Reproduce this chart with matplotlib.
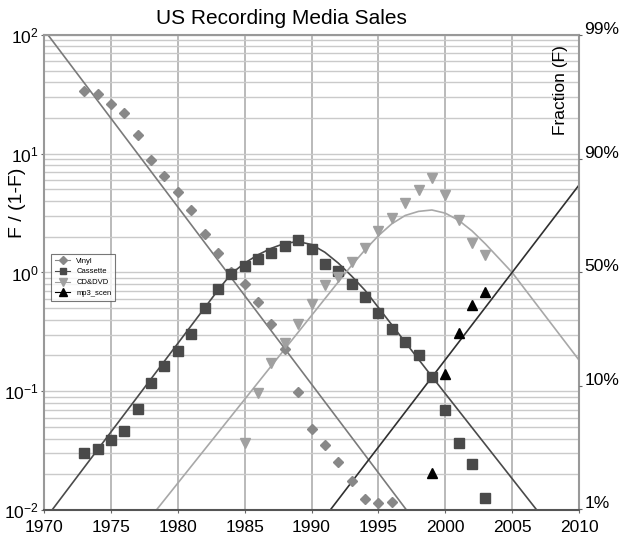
import matplotlib
matplotlib.use("Agg")
import matplotlib.pyplot as plt
import matplotlib.transforms as mtransforms
import numpy as np
from matplotlib.ticker import LogLocator, NullFormatter, FixedLocator, FixedFormatter

plt.rcParams['font.family'] = ['Liberation Sans', 'DejaVu Sans']

# observed F/(1-F) values
vinyl_years = list(range(1973, 1997))
vinyl = [34, 31.7, 26.2, 21.9, 14.4, 8.86, 6.5, 4.8, 3.36, 2.11, 1.45, 1.0,
         0.80, 0.56, 0.368, 0.225, 0.098, 0.0478, 0.035, 0.0252, 0.0177,
         0.0123, 0.0114, 0.0117]

cassette_years = list(range(1973, 2004))
cassette = [0.030, 0.0324, 0.0388, 0.0465, 0.0705, 0.117, 0.163, 0.218, 0.303,
            0.50, 0.723, 0.98, 1.135, 1.30, 1.47, 1.67, 1.88, 1.585, 1.175,
            1.03, 0.80, 0.618, 0.453, 0.334, 0.258, 0.20, 0.133, 0.0695,
            0.0365, 0.0244, 0.0127]

cd_years = list(range(1985, 2004))
cd = [0.0369, 0.097, 0.172, 0.257, 0.370, 0.545, 0.785, 0.92, 1.23, 1.60,
      2.25, 2.89, 3.87, 4.95, 6.2, 4.5, 2.77, 1.76, 1.40]

mp3_years = list(range(1999, 2004))
mp3 = [0.0204, 0.139, 0.311, 0.532, 0.689]

# fitted substitution curves
vinyl_fit_years = [1970.3, 1997.1]
vinyl_fit = [100, 0.01]
cassette_fit_years = [1970.6, 1983, 1984, 1985, 1986, 1987, 1988, 1989, 1990,
                      1991, 1992, 1993, 1994, 1999, 2006.84]
cassette_fit = [0.01, 0.708, 0.977, 1.20, 1.41, 1.60, 1.76, 1.82, 1.72, 1.48,
                1.20, 0.933, 0.708, 0.133, 0.01]
cd_fit_years = [1978.4, 1992, 1993, 1994, 1995, 1996, 1997, 1998, 1999, 2000,
                2001, 2002, 2003, 2004, 2005, 2010]
cd_fit = [0.01, 0.832, 1.148, 1.55, 2.04, 2.57, 3.02, 3.27, 3.36, 3.16, 2.75,
          2.24, 1.74, 1.32, 1.0, 0.183]
mp3_fit_years = [1991.4, 2010]
mp3_fit = [0.01, 5.45]

frac_labels = ['1%', '10%', '50%', '90%', '99%']
frac_values = [0.01, 0.10, 0.50, 0.90, 0.99]

fig = plt.figure(figsize=(6.21, 5.39), dpi=100)
ax = fig.add_axes([0.0709, 0.0538, 0.8615, 0.8813])

ax.plot(vinyl_fit_years, vinyl_fit, color='#7a7a7a', lw=1.2)
ax.plot(cassette_fit_years, cassette_fit, color='#4a4a4a', lw=1.2)
ax.plot(cd_fit_years, cd_fit, color='#a8a8a8', lw=1.2)
ax.plot(mp3_fit_years, mp3_fit, color='#303030', lw=1.2)

ax.plot(vinyl_years, vinyl, ls='none', marker='D', ms=5.5, color='#888888', label='Vinyl')
ax.plot(cassette_years, cassette, ls='none', marker='s', ms=7, color='#4a4a4a', label='Cassette')
ax.plot(cd_years, cd, ls='none', marker='v', ms=7.5, color='#a0a0a0', label='CD&DVD')
ax.plot(mp3_years, mp3, ls='none', marker='^', ms=7.5, color='#000000', label='mp3_scen')

ax.set_yscale('log')
ax.set_xlim(1970, 2010)
ax.set_ylim(1e-2, 1e2)
ax.set_xticks(np.arange(1970, 2011, 5))
ax.yaxis.set_major_locator(LogLocator(base=10, numticks=10))
ax.yaxis.set_minor_locator(LogLocator(base=10, subs=np.arange(2, 10), numticks=20))
ax.yaxis.set_minor_formatter(NullFormatter())
ax.tick_params(axis='y', which='major', labelsize=12.5, length=2, color='#666666', pad=2)
ax.tick_params(axis='x', which='major', labelsize=12.5, length=2, color='#666666', pad=5)
ax.tick_params(axis='y', which='minor', length=0)

ax.grid(True, axis='x', which='major', color='#b4b4b4', lw=1.3)
ax.grid(True, axis='y', which='both', color='#cacaca', lw=1.0)
ax.set_axisbelow(True)

for side in ['left', 'right', 'top']:
    ax.spines[side].set_color('#999999')
    ax.spines[side].set_linewidth(1.5)
ax.spines['bottom'].set_color('#555555')
ax.spines['bottom'].set_linewidth(1.5)

ax2 = ax.twinx()
ax2.set_yscale('log')
ax2.set_ylim(1e-2, 1e2)
odds = [f / (1 - f) for f in frac_values]
ax2.yaxis.set_major_locator(FixedLocator(odds))
ax2.yaxis.set_major_formatter(FixedFormatter(frac_labels))
ax2.yaxis.set_minor_locator(FixedLocator([]))
ax2.tick_params(axis='y', labelsize=12.5, length=2, color='#666666', pad=2)
for side in ['left', 'right', 'top', 'bottom']:
    ax2.spines[side].set_visible(False)
# the percentage labels sit a little above their tick
shift = mtransforms.ScaledTranslation(0, 0.07, fig.dpi_scale_trans)
for lbl in ax2.get_yticklabels():
    lbl.set_transform(lbl.get_transform() + shift)

fig.text(0.453, 0.966, 'US Recording Media Sales', fontsize=15, ha='center', va='center')
fig.text(0.028, 0.623, 'F / (1-F)', rotation=90, fontsize=14, ha='center', va='center')
ax.text(0.965, 0.885, 'Fraction (F)', rotation=90, fontsize=12.5,
        transform=ax.transAxes, ha='center', va='center')

leg = ax.legend(loc='upper left', bbox_to_anchor=(0.006, 0.548), fontsize=5.5,
                frameon=True, fancybox=False, edgecolor='#555555',
                handlelength=2.0, borderpad=0.5, labelspacing=0.45, markerscale=0.7)
leg.get_frame().set_linewidth(0.8)
for h, c in zip(leg.legend_handles, ['#888888', '#4a4a4a', '#a0a0a0', '#000000']):
    h.set_linestyle('-')
    h.set_color(c)
    h.set_linewidth(0.8)

fig.savefig('out.png', dpi=100)
